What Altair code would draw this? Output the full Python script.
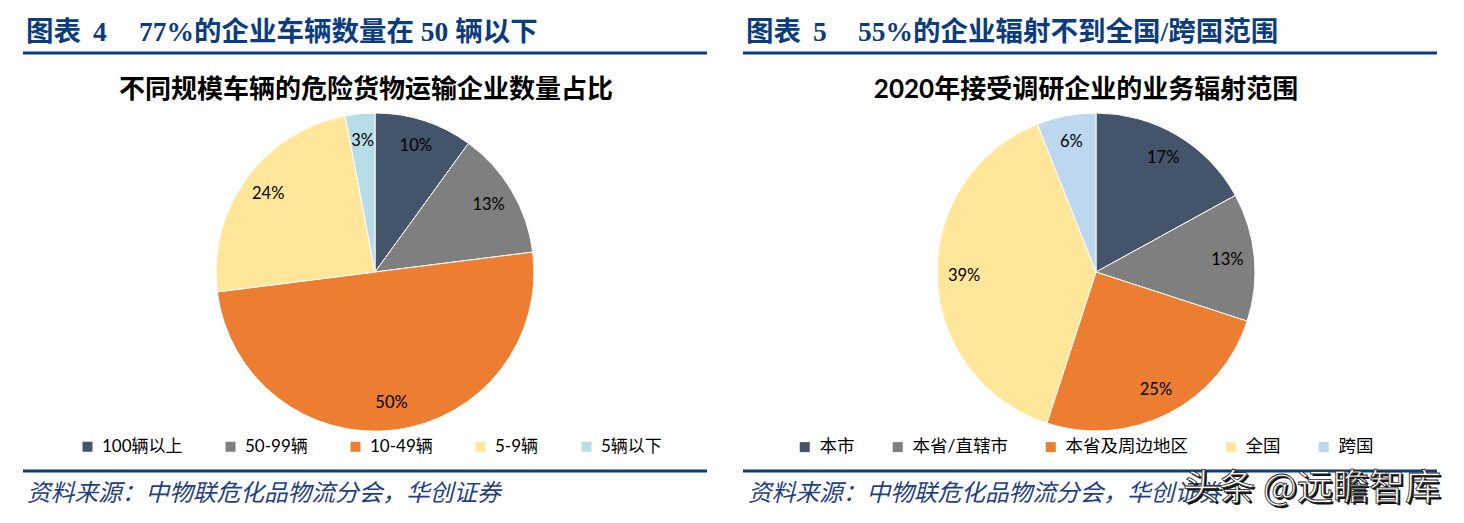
import altair as alt
import pandas as pd

# Left panel: share of hazardous-goods transport firms by fleet size
left_cats = ["100辆以上", "50-99辆", "10-49辆", "5-9辆", "5辆以下"]
left_vals = [10, 13, 50, 24, 3]
left_colors = ["#44546A", "#7F7F7F", "#ED7D31", "#FFE699", "#B7DDE8"]

# Right panel: business coverage of surveyed firms in 2020
right_cats = ["本市", "本省/直辖市", "本省及周边地区", "全国", "跨国"]
right_vals = [17, 13, 25, 39, 6]
right_colors = ["#44546A", "#7F7F7F", "#ED7D31", "#FFE699", "#BDD7EE"]

HEAD_BLUE = "#0B3D7E"
SANS = "Lato, 'Noto Sans CJK SC'"
SERIF = "'Liberation Serif', 'Noto Sans CJK SC'"
CJK = "'Noto Sans CJK SC'"

one = pd.DataFrame({"k": [0]})


def text(s, x, y, **kw):
    return alt.Chart(pd.DataFrame({"t": [s]})).mark_text(**kw).encode(
        x=alt.value(x), y=alt.value(y), text="t:N")


def rule(x1, x2, y):
    return alt.Chart(one).mark_rule(color=HEAD_BLUE, strokeWidth=3).encode(
        x=alt.value(x1), x2=alt.value(x2), y=alt.value(y))


def pie(cats, vals, colors, cx, cy, lx, ly, gap, lsize):
    df = pd.DataFrame({
        "cat": cats,
        "v": vals,
        "idx": list(range(len(cats))),
        "label": [f"{v}%" for v in vals],
    })
    base = alt.Chart(df).encode(
        theta=alt.Theta("v:Q", stack=True),
        order=alt.Order("idx:Q"),
        x=alt.value(cx),
        y=alt.value(cy),
    )
    arcs = base.mark_arc(radius=159, stroke="white", strokeWidth=1).encode(
        color=alt.Color(
            "cat:N",
            sort=cats,
            scale=alt.Scale(domain=cats, range=colors),
            title=None,
            legend=alt.Legend(
                orient="none", legendX=lx, legendY=ly, direction="horizontal",
                symbolType="square", symbolSize=100, symbolStrokeWidth=0,
                labelFont=SANS, labelFontSize=lsize, labelColor="#000000",
                columnPadding=gap, labelOffset=6, padding=0,
            ),
        )
    )
    labels = base.mark_text(radius=132, font=SANS, fontSize=16.5, color="#000000").encode(
        text="label:N")
    return [arcs, labels]


head_kw = dict(font=SERIF, fontSize=27.5, fontWeight="bold", color=HEAD_BLUE,
               align="left", baseline="middle")
title_kw = dict(font=SANS, fontSize=26, fontWeight="bold", color="#000000",
                align="center", baseline="middle")
src_kw = dict(font=CJK, fontSize=23.7, fontStyle="italic", color="#1F3F7F",
              align="left", baseline="middle")

layers = [
    # panel headers
    text("图表", 26, 33, **head_kw),
    text("4", 93, 33, **head_kw),
    text("77%的企业车辆数量在 50 辆以下", 139, 33, **head_kw),
    text("图表", 746, 33, **head_kw),
    text("5", 813, 33, **head_kw),
    text("55%的企业辐射不到全国/跨国范围", 858, 33, **head_kw),
    rule(23, 707, 53),
    rule(743, 1437, 53),
    # chart titles
    text("不同规模车辆的危险货物运输企业数量占比", 366, 90, **title_kw),
    text("2020年接受调研企业的业务辐射范围", 1086, 90, **title_kw),
]
layers += pie(left_cats, left_vals, left_colors, 375, 272, 79, 438, 39, 17)
layers += pie(right_cats, right_vals, right_colors, 1096, 272, 796, 438, 34, 17.5)
layers += [
    rule(23, 707, 471),
    rule(743, 1437, 471),
    text("资料来源：中物联危化品物流分会，华创证券", 27, 494, **src_kw),
    text("资料来源：中物联危化品物流分会，华创证券", 748, 494, **src_kw),
    # overlaid site mark with a dark drop outline
    text("头条 @远瞻智库", 1185, 491, font=CJK, fontSize=36, color="#111111",
         align="left", baseline="middle"),
    text("头条 @远瞻智库", 1183, 489, font=CJK, fontSize=36, color="#FFFFFF",
         stroke="#222222", strokeWidth=0.8, align="left", baseline="middle"),
]

chart = alt.layer(*layers).resolve_scale(
    color="independent", theta="independent"
).properties(
    width=1464, height=523,
    autosize=alt.AutoSizeParams(type="none"),
    padding=0,
).configure_view(stroke=None)

chart.save("out.html", embed_options={"renderer": "svg", "actions": False})
